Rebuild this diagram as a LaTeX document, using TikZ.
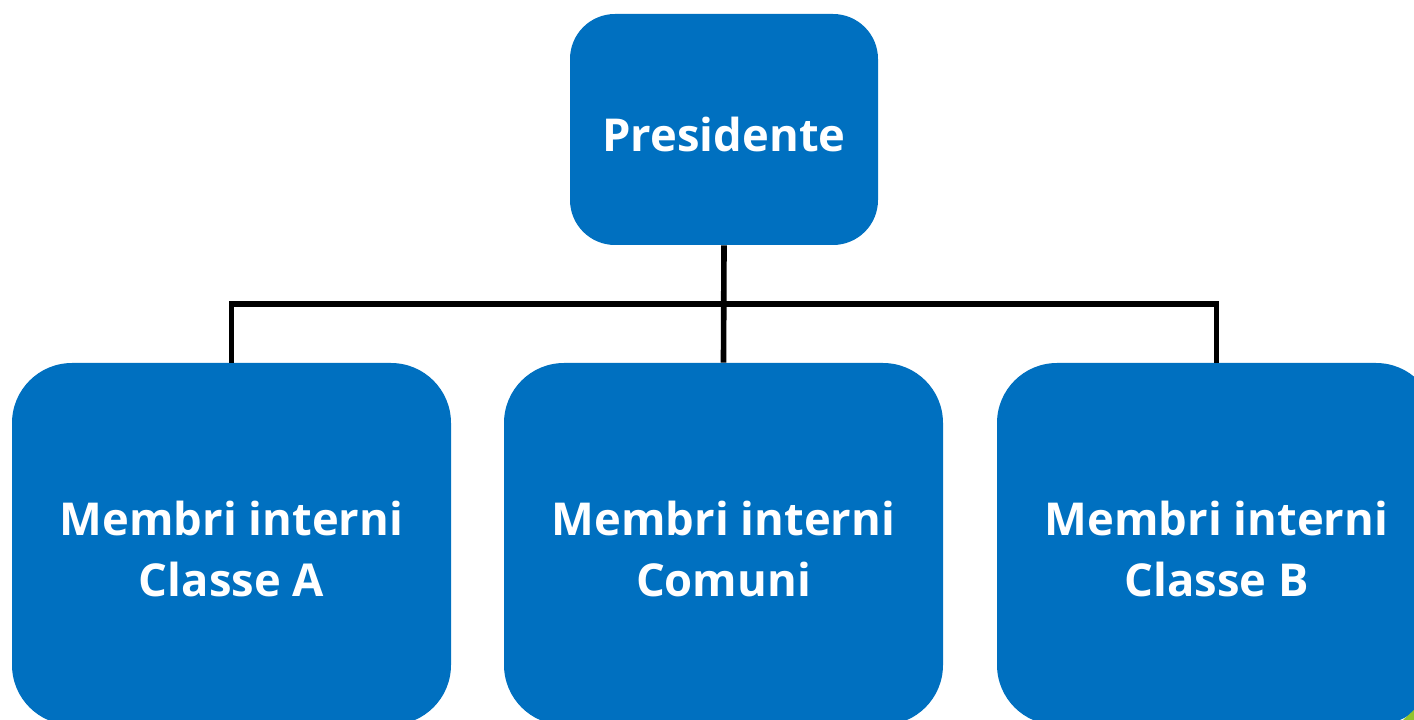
\documentclass[tikz,border=0pt]{standalone}
\usepackage{fontspec}
\setmainfont{Open Sans}
\usetikzlibrary{calc}
\definecolor{boxblue}{RGB}{0,112,192}
\definecolor{leafgreen}{RGB}{146,196,46}

\begin{document}
\begin{tikzpicture}
			\tikzstyle{unit}=[draw=none, fill=boxblue, text=white, font=\bfseries\fontsize{25.8}{35}\selectfont, align=center, inner sep=0pt, text depth=0pt]
			\tikzstyle{head}=[unit, rounded corners=0.9cm, minimum width=6.16cm, minimum height=4.62cm, text height=0.9cm]
			\tikzstyle{member}=[unit, rounded corners=1.2cm, minimum width=8.78cm, minimum height=7.24cm, text height=2.12cm]
			\tikzstyle{link}=[line width=3.2pt]

			\clip (0,0) rectangle (28.28,14.4);

			\node (pres) [head] at (14.48,11.81) {Presidente};

			\node (classA) [member] at (4.63,3.52) {Membri interni\\Classe A};
			\node (comuni) [member] at (14.47,3.52) {Membri interni\\Comuni};
			\node (classB) [member] at (24.33,3.52) {Membri interni\\Classe B};

			\coordinate (split) at ($(pres.south)!0.5!(comuni.north)$);
			\draw [link] (pres.south) -- (comuni.north);
			\draw [link] (classA.north) |- (split) -| (classB.north);

			\fill [leafgreen] (28.06,0) -- (28.28,0) -- (28.28,0.2) -- cycle;
		\end{tikzpicture}
\end{document}
